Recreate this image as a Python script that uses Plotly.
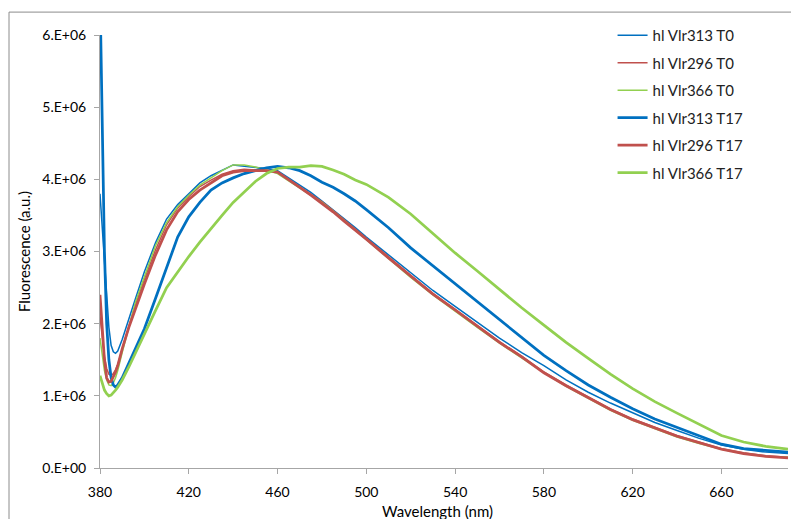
import plotly.graph_objects as go

wavelength = [380, 381, 382, 383, 384, 385, 386, 387, 388, 390, 393, 396, 400, 405, 410, 415,
              420, 425, 430, 435, 440, 445, 450, 455, 460, 465, 470, 475, 480, 485, 490, 495,
              500, 510, 520, 530, 540, 550, 560, 570, 580, 590, 600, 610, 620, 630, 640, 650,
              660, 670, 680, 690]

# values in units of 1e6
vlr313_t0 = [3.80, 3.30, 2.80, 2.35, 1.95, 1.70, 1.61, 1.59, 1.62, 1.78, 2.05, 2.35, 2.72, 3.12, 3.45, 3.65,
             3.80, 3.95, 4.05, 4.12, 4.20, 4.18, 4.17, 4.15, 4.12, 4.02, 3.92, 3.82, 3.70, 3.58, 3.45, 3.33,
             3.20, 2.95, 2.70, 2.46, 2.24, 2.02, 1.80, 1.60, 1.42, 1.22, 1.05, 0.90, 0.76, 0.63, 0.52, 0.41,
             0.32, 0.26, 0.22, 0.20]
vlr296_t0 = [2.10, 1.80, 1.55, 1.38, 1.30, 1.28, 1.31, 1.36, 1.43, 1.65, 1.97, 2.27, 2.62, 3.02, 3.37, 3.60,
             3.76, 3.90, 3.99, 4.07, 4.12, 4.14, 4.13, 4.12, 4.10, 4.00, 3.90, 3.80, 3.69, 3.57, 3.44, 3.31,
             3.18, 2.92, 2.67, 2.42, 2.20, 1.97, 1.75, 1.55, 1.33, 1.15, 0.98, 0.82, 0.68, 0.56, 0.45, 0.36,
             0.27, 0.21, 0.17, 0.15]
vlr366_t0 = [1.80, 1.55, 1.35, 1.22, 1.15, 1.14, 1.18, 1.25, 1.35, 1.60, 1.95, 2.30, 2.65, 3.08, 3.40, 3.62,
             3.78, 3.92, 4.02, 4.12, 4.20, 4.20, 4.17, 4.13, 4.08, 3.98, 3.88, 3.78, 3.68, 3.56, 3.43, 3.30,
             3.17, 2.90, 2.64, 2.40, 2.17, 1.95, 1.73, 1.52, 1.32, 1.13, 0.96, 0.80, 0.66, 0.54, 0.43, 0.34,
             0.26, 0.20, 0.16, 0.15]
vlr313_t17 = [6.60, 4.60, 3.00, 2.00, 1.50, 1.25, 1.15, 1.12, 1.15, 1.25, 1.45, 1.65, 1.93, 2.35, 2.78, 3.20,
              3.48, 3.68, 3.85, 3.95, 4.02, 4.08, 4.12, 4.16, 4.18, 4.16, 4.12, 4.05, 3.96, 3.89, 3.80, 3.70,
              3.58, 3.33, 3.05, 2.80, 2.55, 2.30, 2.05, 1.80, 1.56, 1.35, 1.15, 0.98, 0.82, 0.68, 0.56, 0.44,
              0.33, 0.27, 0.24, 0.22]
vlr296_t17 = [2.40, 1.90, 1.50, 1.25, 1.19, 1.20, 1.26, 1.33, 1.42, 1.65, 1.95, 2.22, 2.55, 2.95, 3.30, 3.55,
              3.72, 3.85, 3.95, 4.05, 4.10, 4.12, 4.12, 4.12, 4.10, 4.00, 3.89, 3.78, 3.67, 3.55, 3.42, 3.30,
              3.17, 2.91, 2.66, 2.41, 2.19, 1.96, 1.74, 1.54, 1.32, 1.14, 0.97, 0.81, 0.67, 0.55, 0.44, 0.35,
              0.26, 0.20, 0.16, 0.14]
vlr366_t17 = [1.28, 1.18, 1.08, 1.03, 1.00, 1.01, 1.04, 1.08, 1.12, 1.22, 1.40, 1.60, 1.85, 2.18, 2.50, 2.72,
              2.93, 3.13, 3.32, 3.50, 3.68, 3.82, 3.97, 4.08, 4.15, 4.17, 4.17, 4.19, 4.18, 4.13, 4.07, 3.99,
              3.93, 3.75, 3.52, 3.25, 2.98, 2.73, 2.47, 2.22, 1.98, 1.74, 1.52, 1.30, 1.10, 0.92, 0.76, 0.60,
              0.45, 0.36, 0.30, 0.26]

series = [
    ("hl Vlr313 T0", vlr313_t0, "#0070C0", 1.5),
    ("hl Vlr296 T0", vlr296_t0, "#C0504D", 1.5),
    ("hl Vlr366 T0", vlr366_t0, "#92D050", 1.5),
    ("hl Vlr313 T17", vlr313_t17, "#0070C0", 2.75),
    ("hl Vlr296 T17", vlr296_t17, "#C0504D", 2.75),
    ("hl Vlr366 T17", vlr366_t17, "#92D050", 2.75),
]

y_tickvals = [0, 1e6, 2e6, 3e6, 4e6, 5e6, 6e6]
y_ticktext = ["0.E+00", "1.E+06", "2.E+06", "3.E+06", "4.E+06", "5.E+06", "6.E+06"]
x_tickvals = [380, 420, 460, 500, 540, 580, 620, 660]

fig = go.Figure()
for name, vals, color, width in series:
    fig.add_trace(go.Scatter(
        x=wavelength, y=[v * 1e6 for v in vals], mode="lines", name=name,
        legendgroup=name, line=dict(color=color, width=width)))

# the page body adds an 8px margin, so the figure is 8px smaller and offsets are shifted
W, H = 791, 511
L, T, R, B = 92, 25, 11, 51
PW, PH = W - L - R, H - T - B

font_family = "Lato, 'Open Sans', sans-serif"
fig.update_layout(
    width=W, height=H,
    paper_bgcolor="white", plot_bgcolor="white",
    margin=dict(l=L, r=R, t=T, b=B),
    font=dict(family=font_family, color="#000000", size=13),
    showlegend=True,
    legend=dict(x=0.745, y=1.037, xanchor="left", yanchor="top",
                font=dict(size=15, family=font_family, color="#222222"),
                bgcolor="rgba(0,0,0,0)", tracegroupgap=5, itemwidth=30),
    xaxis=dict(range=[380, 690], tickvals=x_tickvals, showgrid=False, zeroline=False,
               showline=True, linecolor="#a6a6a6", linewidth=1, automargin=False,
               ticks="outside", ticklen=5, tickcolor="#a6a6a6", ticklabelstandoff=6,
               tickfont=dict(size=14)),
    yaxis=dict(range=[0, 6e6], tickvals=y_tickvals, ticktext=y_ticktext, showgrid=False, zeroline=False,
               showline=True, linecolor="#a6a6a6", linewidth=1, automargin=False,
               ticks="outside", ticklen=5, tickcolor="#a6a6a6", ticklabelstandoff=5,
               tickfont=dict(size=14), title=dict(text="Fluorescence (a.u.)", font=dict(size=15), standoff=8)),
    annotations=[dict(text="Wavelength (nm)", xref="paper", yref="paper",
                      x=(437 - 8 - L) / PW, y=(T + PH - (511 - 8)) / PH,
                      xanchor="center", yanchor="middle", showarrow=False,
                      font=dict(size=15, family=font_family, color="#000000"))],
    shapes=[dict(type="rect", xref="paper", yref="paper",
                 x0=(1 - L) / PW, x1=(W + 4 - L) / PW,
                 y0=(T + PH - (H + 4)) / PH, y1=(T + PH - 2) / PH,
                 line=dict(color="#8c8c8c", width=1), layer="below")],
)

fig.write_html("out.html")
